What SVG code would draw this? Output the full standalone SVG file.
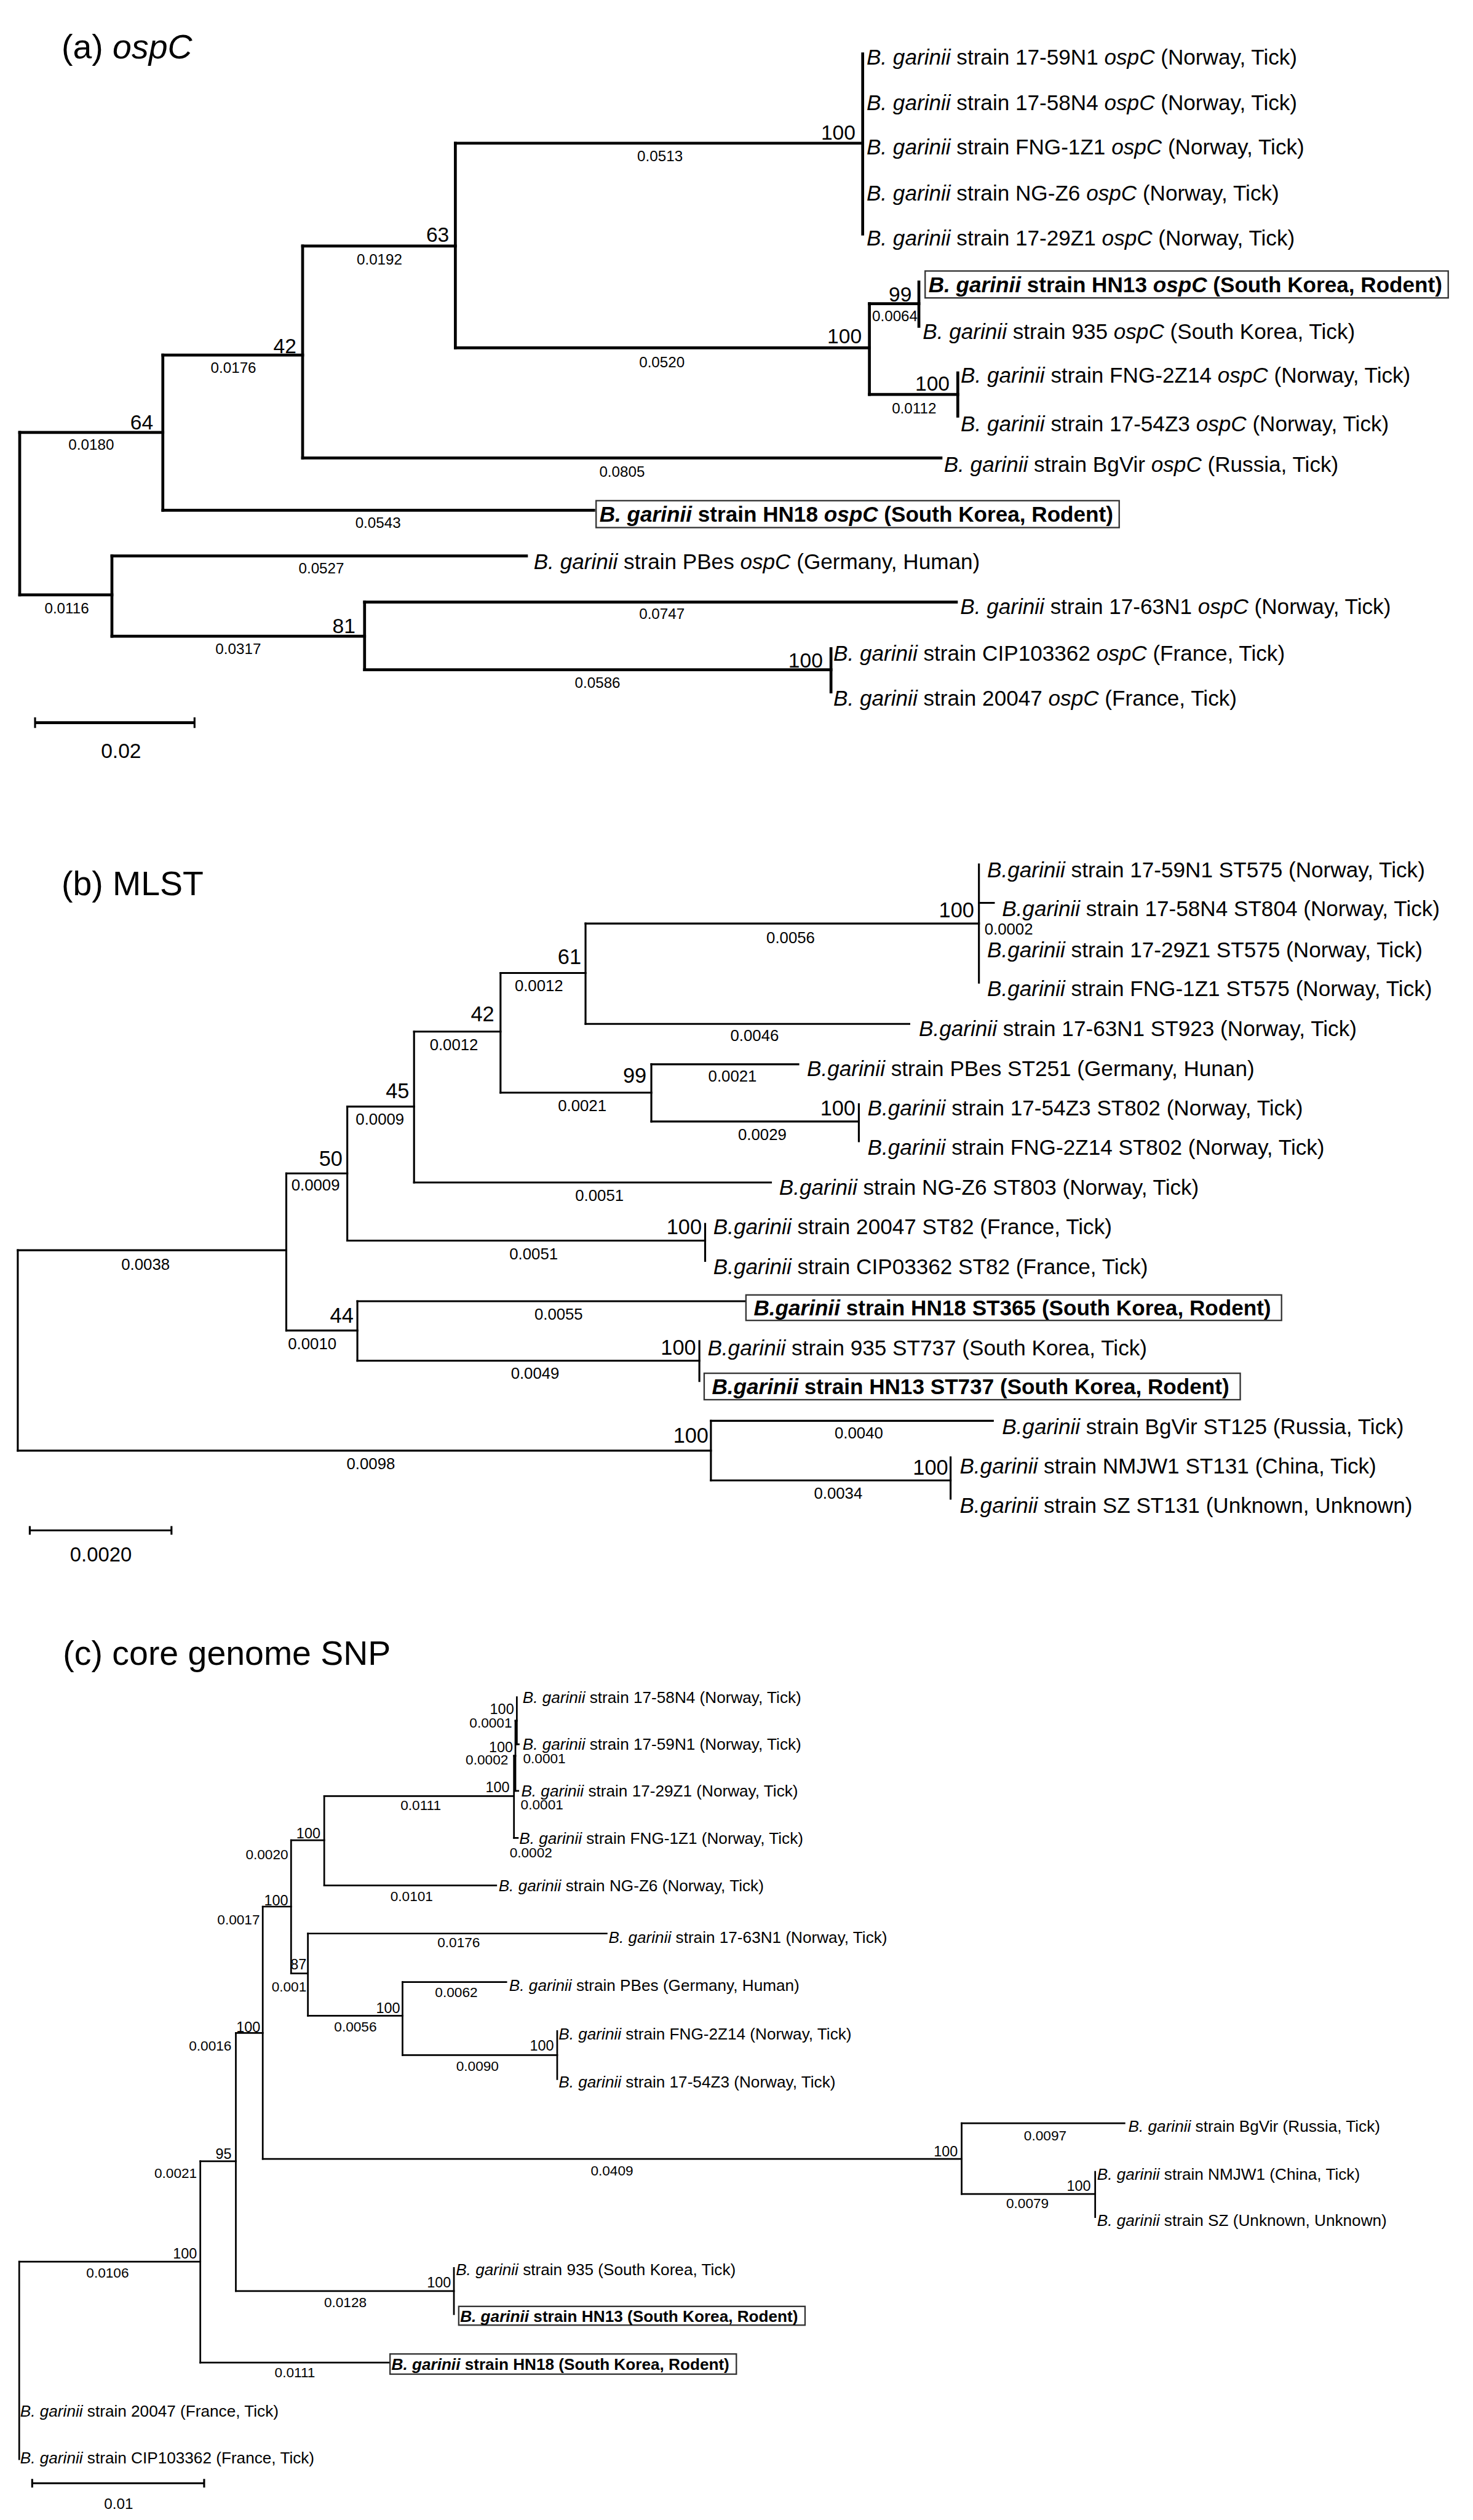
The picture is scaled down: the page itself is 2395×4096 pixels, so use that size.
<svg xmlns="http://www.w3.org/2000/svg" width="2395" height="4096" viewBox="0 0 2395 4096">
<style>
text{font-family:"Liberation Sans",Arial,sans-serif;fill:#000}
.ttl{font-size:71px}
.la,.lb{font-size:45px}
.lc{font-size:33.5px}
.bsa{font-size:43px;text-anchor:end}
.bla{font-size:31px;text-anchor:middle}
.bsb{font-size:44px;text-anchor:end}
.blb{font-size:33px;text-anchor:middle}
.bsc{font-size:30px;text-anchor:end}
.blc{font-size:29px;text-anchor:middle}
.end{text-anchor:end}
.st{text-anchor:start}
.i{font-style:italic}
.bd{font-weight:bold}
.box{fill:#fff;stroke:#333;stroke-width:3}
.br{fill:none;stroke:#000;stroke-linecap:square}
.wa{stroke-width:6}
.wb{stroke-width:4}
.wc{stroke-width:3.5}
.sc{fill:none;stroke:#000}
</style>
<rect width="2395" height="4096" fill="#fff"/>
<g transform="scale(0.781)">

<!-- ================= PANEL A ================= -->
<text class="ttl" x="128" y="122">(a) <tspan class="i">ospC</tspan></text>
<g id="a-connectors" class="br wa">
<path d="M41 900V1238M339 739V1062M630 512V953M948 298V724M1796 112V487M1810 632V821M1913 587V679M1994 776V866M233 1157V1324M759 1253V1394M1730 1350V1440"/>
<path d="M41 900H339M339 739H630M630 512H948M948 298H1796M948 724H1810M1810 632H1913M1810 821H1994M630 953H1959M339 1062H1236M41 1238H233M233 1157H1096M233 1324H759M759 1253H1991M759 1394H1730"/>
</g>
<g id="a-internal-labels">
<g id="a-node-64"><text class="bsa" x="319" y="894">64</text><text class="bla" x="190" y="936">0.0180</text></g>
<g id="a-node-42"><text class="bsa" x="617" y="735">42</text><text class="bla" x="486" y="776">0.0176</text></g>
<g id="a-node-63"><text class="bsa" x="935" y="503">63</text><text class="bla" x="790" y="551">0.0192</text></g>
<g id="a-node-100top"><text class="bsa" x="1781" y="291">100</text><text class="bla" x="1374" y="335">0.0513</text></g>
<g id="a-node-100hn"><text class="bsa" x="1794" y="714">100</text><text class="bla" x="1378" y="765">0.0520</text></g>
<g id="a-node-99"><text class="bsa" x="1898" y="628">99</text><text class="bla" x="1863" y="669">0.0064</text></g>
<g id="a-node-100fng"><text class="bsa" x="1977" y="813">100</text><text class="bla" x="1903" y="861">0.0112</text></g>
<g id="a-node-low"><text class="bla" x="139" y="1276">0.0116</text></g>
<g id="a-node-81"><text class="bsa" x="740" y="1318">81</text><text class="bla" x="496" y="1361">0.0317</text></g>
<g id="a-node-100cip"><text class="bsa" x="1713" y="1389">100</text><text class="bla" x="1244" y="1432">0.0586</text></g>
<g id="a-bl-leaves"><text class="bla" x="1295" y="992">0.0805</text><text class="bla" x="787" y="1099">0.0543</text><text class="bla" x="669" y="1193">0.0527</text><text class="bla" x="1378" y="1288">0.0747</text></g>
</g>
<g id="a-leaf-17-59N1"><text class="la" x="1804" y="134"><tspan class="i">B. garinii</tspan> strain 17-59N1 <tspan class="i">ospC</tspan> (Norway, Tick)</text></g>
<g id="a-leaf-17-58N4"><text class="la" x="1804" y="229"><tspan class="i">B. garinii</tspan> strain 17-58N4 <tspan class="i">ospC</tspan> (Norway, Tick)</text></g>
<g id="a-leaf-FNG-1Z1"><text class="la" x="1804" y="322"><tspan class="i">B. garinii</tspan> strain FNG-1Z1 <tspan class="i">ospC</tspan> (Norway, Tick)</text></g>
<g id="a-leaf-NG-Z6"><text class="la" x="1804" y="417"><tspan class="i">B. garinii</tspan> strain NG-Z6 <tspan class="i">ospC</tspan> (Norway, Tick)</text></g>
<g id="a-leaf-17-29Z1"><text class="la" x="1804" y="511"><tspan class="i">B. garinii</tspan> strain 17-29Z1 <tspan class="i">ospC</tspan> (Norway, Tick)</text></g>
<g id="a-leaf-HN13"><rect class="box" x="1926" y="564" width="1089" height="56"/><text class="la bd" x="1933" y="608"><tspan class="i">B. garinii</tspan> strain HN13 <tspan class="i">ospC</tspan> (South Korea, Rodent)</text></g>
<g id="a-leaf-935"><text class="la" x="1921" y="705"><tspan class="i">B. garinii</tspan> strain 935 <tspan class="i">ospC</tspan> (South Korea, Tick)</text></g>
<g id="a-leaf-FNG-2Z14"><text class="la" x="2000" y="797"><tspan class="i">B. garinii</tspan> strain FNG-2Z14 <tspan class="i">ospC</tspan> (Norway, Tick)</text></g>
<g id="a-leaf-17-54Z3"><text class="la" x="2000" y="898"><tspan class="i">B. garinii</tspan> strain 17-54Z3 <tspan class="i">ospC</tspan> (Norway, Tick)</text></g>
<g id="a-leaf-BgVir"><text class="la" x="1965" y="982"><tspan class="i">B. garinii</tspan> strain BgVir <tspan class="i">ospC</tspan> (Russia, Tick)</text></g>
<g id="a-leaf-HN18"><rect class="box" x="1241" y="1042" width="1089" height="56"/><text class="la bd" x="1248" y="1086"><tspan class="i">B. garinii</tspan> strain HN18 <tspan class="i">ospC</tspan> (South Korea, Rodent)</text></g>
<g id="a-leaf-PBes"><text class="la" x="1111" y="1184"><tspan class="i">B. garinii</tspan> strain PBes <tspan class="i">ospC</tspan> (Germany, Human)</text></g>
<g id="a-leaf-17-63N1"><text class="la" x="1999" y="1278"><tspan class="i">B. garinii</tspan> strain 17-63N1 <tspan class="i">ospC</tspan> (Norway, Tick)</text></g>
<g id="a-leaf-CIP103362"><text class="la" x="1735" y="1375"><tspan class="i">B. garinii</tspan> strain CIP103362 <tspan class="i">ospC</tspan> (France, Tick)</text></g>
<g id="a-leaf-20047"><text class="la" x="1735" y="1469"><tspan class="i">B. garinii</tspan> strain 20047 <tspan class="i">ospC</tspan> (France, Tick)</text></g>
<g id="a-scale"><path class="sc" stroke-width="6" d="M73 1504H405"/><path class="sc" stroke-width="4" d="M73 1493V1515M405 1493V1515"/><text x="252" y="1578" font-size="43" text-anchor="middle">0.02</text></g>

<!-- ================= PANEL B ================= -->
<text class="ttl" x="128" y="1863">(b) MLST</text>
<g id="b-connectors" class="br wb">
<path d="M37 2602V3019M596 2442V2769M723 2303V2582M862 2147V2461M1042 2025V2274M1219 1922V2131M2038 1799V2045M1356 2215V2334M1788 2298V2375M1468 2547V2624M744 2708V2832M1456 2791V2874M1480 2957V3081M1979 3033V3119"/>
<path d="M37 2602H596M596 2442H723M723 2303H862M862 2147H1042M1042 2025H1219M1219 1922H2038M2038 1879H2069M1219 2131H1893M1042 2274H1356M1356 2215H1662M1356 2334H1788M862 2461H1605M723 2582H1468M596 2769H744M744 2708H1550M744 2832H1456M37 3019H1480M1480 2957H2067M1480 3081H1979"/>
</g>
<g id="b-internal-labels">
<g id="b-node-A"><text class="blb" x="303" y="2643">0.0038</text></g>
<g id="b-node-50"><text class="bsb" x="713" y="2427">50</text><text class="blb" x="657" y="2478">0.0009</text></g>
<g id="b-node-45"><text class="bsb" x="852" y="2286">45</text><text class="blb" x="791" y="2341">0.0009</text></g>
<g id="b-node-42"><text class="bsb" x="1029" y="2125">42</text><text class="blb" x="945" y="2186">0.0012</text></g>
<g id="b-node-61"><text class="bsb" x="1210" y="2006">61</text><text class="blb" x="1122" y="2063">0.0012</text></g>
<g id="b-node-100a"><text class="bsb" x="2028" y="1909">100</text><text class="blb" x="1646" y="1963">0.0056</text></g>
<g id="b-node-99"><text class="bsb" x="1346" y="2254">99</text><text class="blb" x="1212" y="2312">0.0021</text></g>
<g id="b-node-100b"><text class="bsb" x="1781" y="2322">100</text><text class="blb" x="1587" y="2372">0.0029</text></g>
<g id="b-node-100c"><text class="bsb" x="1461" y="2569">100</text><text class="blb" x="1111" y="2621">0.0051</text></g>
<g id="b-node-44"><text class="bsb" x="736" y="2753">44</text><text class="blb" x="650" y="2808">0.0010</text></g>
<g id="b-node-100d"><text class="bsb" x="1449" y="2820">100</text><text class="blb" x="1114" y="2870">0.0049</text></g>
<g id="b-node-100e"><text class="bsb" x="1475" y="3003">100</text><text class="blb" x="772" y="3057">0.0098</text></g>
<g id="b-node-100f"><text class="bsb" x="1974" y="3069">100</text><text class="blb" x="1745" y="3119">0.0034</text></g>
<g id="b-bl-leaves"><text class="blb" x="2100" y="1945">0.0002</text><text class="blb" x="1571" y="2167">0.0046</text><text class="blb" x="1525" y="2251">0.0021</text><text class="blb" x="1248" y="2499">0.0051</text><text class="blb" x="1163" y="2746">0.0055</text><text class="blb" x="1788" y="2994">0.0040</text></g>
</g>
<g id="b-leaf-17-59N1"><text class="lb" x="2055" y="1826"><tspan class="i">B.garinii</tspan> strain 17-59N1 ST575 (Norway, Tick)</text></g>
<g id="b-leaf-17-58N4"><text class="lb" x="2086" y="1907"><tspan class="i">B.garinii</tspan> strain 17-58N4 ST804 (Norway, Tick)</text></g>
<g id="b-leaf-17-29Z1"><text class="lb" x="2055" y="1992"><tspan class="i">B.garinii</tspan> strain 17-29Z1 ST575 (Norway, Tick)</text></g>
<g id="b-leaf-FNG-1Z1"><text class="lb" x="2055" y="2073"><tspan class="i">B.garinii</tspan> strain FNG-1Z1 ST575 (Norway, Tick)</text></g>
<g id="b-leaf-17-63N1"><text class="lb" x="1913" y="2156"><tspan class="i">B.garinii</tspan> strain 17-63N1 ST923 (Norway, Tick)</text></g>
<g id="b-leaf-PBes"><text class="lb" x="1680" y="2239"><tspan class="i">B.garinii</tspan> strain PBes ST251 (Germany, Hunan)</text></g>
<g id="b-leaf-17-54Z3"><text class="lb" x="1806" y="2321"><tspan class="i">B.garinii</tspan> strain 17-54Z3 ST802 (Norway, Tick)</text></g>
<g id="b-leaf-FNG-2Z14"><text class="lb" x="1806" y="2403"><tspan class="i">B.garinii</tspan> strain FNG-2Z14 ST802 (Norway, Tick)</text></g>
<g id="b-leaf-NG-Z6"><text class="lb" x="1622" y="2486"><tspan class="i">B.garinii</tspan> strain NG-Z6 ST803 (Norway, Tick)</text></g>
<g id="b-leaf-20047"><text class="lb" x="1485" y="2568"><tspan class="i">B.garinii</tspan> strain 20047 ST82 (France, Tick)</text></g>
<g id="b-leaf-CIP03362"><text class="lb" x="1485" y="2652"><tspan class="i">B.garinii</tspan> strain CIP03362 ST82 (France, Tick)</text></g>
<g id="b-leaf-HN18"><rect class="box" x="1553" y="2695" width="1115" height="53"/><text class="lb bd" x="1569" y="2737"><tspan class="i">B.garinii</tspan> strain HN18 ST365 (South Korea, Rodent)</text></g>
<g id="b-leaf-935"><text class="lb" x="1473" y="2821"><tspan class="i">B.garinii</tspan> strain 935 ST737 (South Korea, Tick)</text></g>
<g id="b-leaf-HN13"><rect class="box" x="1466" y="2858" width="1116" height="55"/><text class="lb bd" x="1482" y="2901"><tspan class="i">B.garinii</tspan> strain HN13 ST737 (South Korea, Rodent)</text></g>
<g id="b-leaf-BgVir"><text class="lb" x="2086" y="2984"><tspan class="i">B.garinii</tspan> strain BgVir ST125 (Russia, Tick)</text></g>
<g id="b-leaf-NMJW1"><text class="lb" x="1998" y="3067"><tspan class="i">B.garinii</tspan> strain NMJW1 ST131 (China, Tick)</text></g>
<g id="b-leaf-SZ"><text class="lb" x="1998" y="3149"><tspan class="i">B.garinii</tspan> strain SZ ST131 (Unknown, Unknown)</text></g>
<g id="b-scale"><path class="sc" stroke-width="4" d="M62 3185H357M62 3176V3194M357 3176V3194"/><text x="210" y="3250" font-size="42" text-anchor="middle">0.0020</text></g>

<!-- ================= PANEL C ================= -->
<text class="ttl" x="131" y="3465">(c) core genome SNP</text>
<g id="c-connectors" class="br wc">
<path d="M40 4707V5118M417 4498V4917M491 4231V4768M547 3968V4493M606 3830V4107M675 3738V3924M1070 3654V3825M1073 3581V3727M1076 3532V3630M641 4024V4195M838 4125V4277M1160 4227V4327M2002 4419V4566M2280 4520V4614M945 4720V4816"/>
<path d="M40 4707H417M417 4498H491M417 4917H809M491 4231H547M491 4768H945M547 3968H606M547 4493H2002M606 3830H675M606 4107H641M675 3738H1070M675 3924H1033M1070 3654H1073M1070 3825H1078M1073 3581H1076M1073 3727H1079M1076 3630H1080M641 4024H1263M641 4195H838M838 4125H1054M838 4277H1160M2002 4419H2341M2002 4566H2280"/>
</g>
<g id="c-internal-labels">
<g id="c-node-Z"><text class="bsc" x="1070" y="3567">100</text><text class="blc end" x="1066" y="3596">0.0001</text></g>
<g id="c-node-Y"><text class="bsc" x="1068" y="3646">100</text><text class="blc end" x="1058" y="3672">0.0002</text></g>
<g id="c-node-X"><text class="bsc" x="1061" y="3730">100</text><text class="blc" x="876" y="3767">0.0111</text></g>
<g id="c-node-N1"><text class="bsc" x="667" y="3826">100</text><text class="blc end" x="600" y="3869">0.0020</text></g>
<g id="c-node-N2"><text class="bsc" x="600" y="3965">100</text><text class="blc end" x="541" y="4005">0.0017</text></g>
<g id="c-node-N3"><text class="bsc" x="542" y="4229">100</text><text class="blc end" x="482" y="4267">0.0016</text></g>
<g id="c-node-87"><text class="bsc" x="638" y="4099">87</text><text class="blc end" x="638" y="4145">0.001</text></g>
<g id="c-node-100pbes"><text class="bsc" x="833" y="4190">100</text><text class="blc" x="740" y="4228">0.0056</text></g>
<g id="c-node-100fng"><text class="bsc" x="1153" y="4268">100</text><text class="blc" x="994" y="4310">0.0090</text></g>
<g id="c-node-95"><text class="bsc" x="482" y="4493">95</text><text class="blc end" x="410" y="4533">0.0021</text></g>
<g id="c-node-N5"><text class="bsc" x="410" y="4700">100</text><text class="blc" x="224" y="4740">0.0106</text></g>
<g id="c-node-100-935"><text class="bsc" x="939" y="4760">100</text><text class="blc" x="719" y="4801">0.0128</text></g>
<g id="c-node-100bgvir"><text class="bsc" x="1994" y="4488">100</text><text class="blc" x="1274" y="4527">0.0409</text></g>
<g id="c-node-100nmjw1"><text class="bsc" x="2271" y="4559">100</text><text class="blc" x="2139" y="4595">0.0079</text></g>
<g id="c-bl-leaves"><text class="blc st" x="1089" y="3670">0.0001</text><text class="blc st" x="1084" y="3766">0.0001</text><text class="blc st" x="1061" y="3866">0.0002</text><text class="blc" x="857" y="3957">0.0101</text><text class="blc" x="955" y="4052">0.0176</text><text class="blc" x="950" y="4156">0.0062</text><text class="blc" x="2176" y="4455">0.0097</text><text class="blc" x="614" y="4948">0.0111</text></g>
</g>
<g id="c-leaf-17-58N4"><text class="lc" x="1088" y="3544"><tspan class="i">B. garinii</tspan> strain 17-58N4 (Norway, Tick)</text></g>
<g id="c-leaf-17-59N1"><text class="lc" x="1088" y="3642"><tspan class="i">B. garinii</tspan> strain 17-59N1 (Norway, Tick)</text></g>
<g id="c-leaf-17-29Z1"><text class="lc" x="1085" y="3739"><tspan class="i">B. garinii</tspan> strain 17-29Z1 (Norway, Tick)</text></g>
<g id="c-leaf-FNG-1Z1"><text class="lc" x="1081" y="3837"><tspan class="i">B. garinii</tspan> strain FNG-1Z1 (Norway, Tick)</text></g>
<g id="c-leaf-NG-Z6"><text class="lc" x="1038" y="3936"><tspan class="i">B. garinii</tspan> strain NG-Z6 (Norway, Tick)</text></g>
<g id="c-leaf-17-63N1"><text class="lc" x="1267" y="4043"><tspan class="i">B. garinii</tspan> strain 17-63N1 (Norway, Tick)</text></g>
<g id="c-leaf-PBes"><text class="lc" x="1060" y="4144"><tspan class="i">B. garinii</tspan> strain PBes (Germany, Human)</text></g>
<g id="c-leaf-FNG-2Z14"><text class="lc" x="1163" y="4244"><tspan class="i">B. garinii</tspan> strain FNG-2Z14 (Norway, Tick)</text></g>
<g id="c-leaf-17-54Z3"><text class="lc" x="1163" y="4345"><tspan class="i">B. garinii</tspan> strain 17-54Z3 (Norway, Tick)</text></g>
<g id="c-leaf-BgVir"><text class="lc" x="2349" y="4437"><tspan class="i">B. garinii</tspan> strain BgVir (Russia, Tick)</text></g>
<g id="c-leaf-NMJW1"><text class="lc" x="2284" y="4537"><tspan class="i">B. garinii</tspan> strain NMJW1 (China, Tick)</text></g>
<g id="c-leaf-SZ"><text class="lc" x="2284" y="4633"><tspan class="i">B. garinii</tspan> strain SZ (Unknown, Unknown)</text></g>
<g id="c-leaf-935"><text class="lc" x="949" y="4735"><tspan class="i">B. garinii</tspan> strain 935 (South Korea, Tick)</text></g>
<g id="c-leaf-HN13"><rect class="box" x="955" y="4800" width="721" height="39" stroke-width="2.5"/><text class="lc bd" x="958" y="4832"><tspan class="i">B. garinii</tspan> strain HN13 (South Korea, Rodent)</text></g>
<g id="c-leaf-HN18"><rect class="box" x="812" y="4899" width="721" height="42" stroke-width="2.5"/><text class="lc bd" x="815" y="4932"><tspan class="i">B. garinii</tspan> strain HN18 (South Korea, Rodent)</text></g>
<g id="c-leaf-20047"><text class="lc" x="42" y="5030"><tspan class="i">B. garinii</tspan> strain 20047 (France, Tick)</text></g>
<g id="c-leaf-CIP103362"><text class="lc" x="42" y="5127"><tspan class="i">B. garinii</tspan> strain CIP103362 (France, Tick)</text></g>
<g id="c-scale"><path class="sc" stroke-width="4" d="M67 5168H425M67 5159V5177M425 5159V5177"/><text x="247" y="5221" font-size="31" text-anchor="middle">0.01</text></g>
</g>
</svg>
